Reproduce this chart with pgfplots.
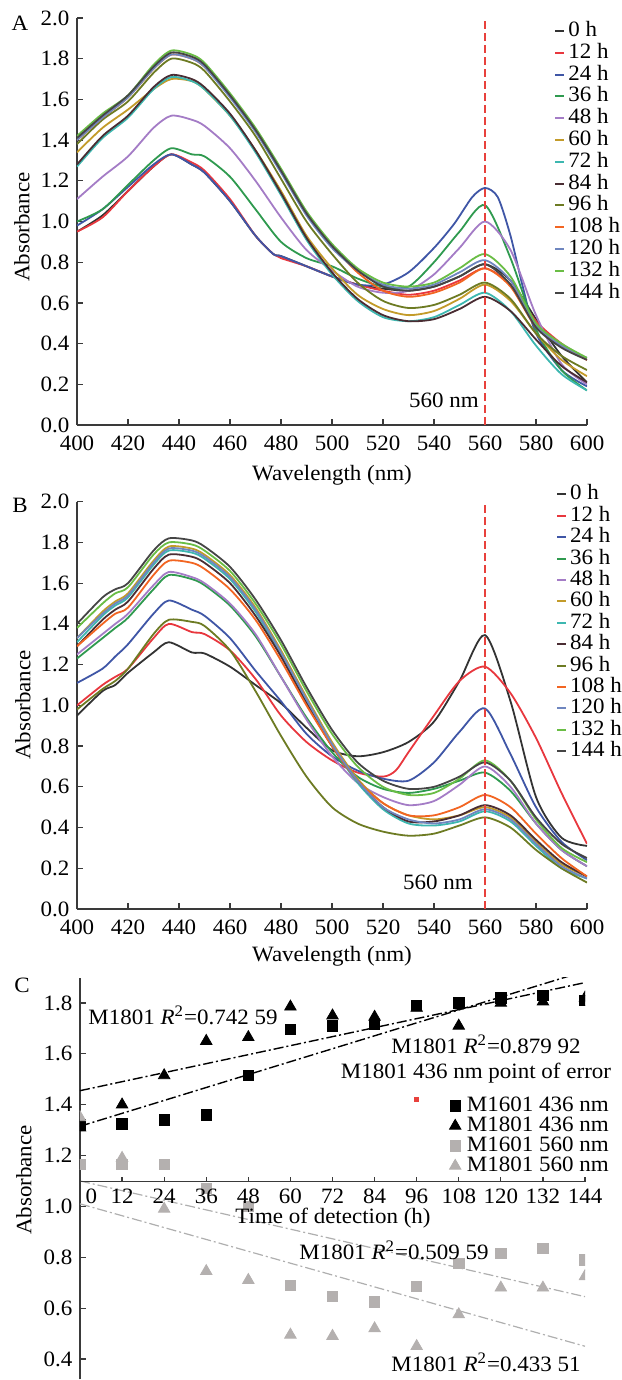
\documentclass[border=0pt,11pt]{standalone}
\usepackage{fontspec}
\setmainfont{Liberation Serif}[FakeStretch=1.05]
\usepackage{pgfplots}
\pgfplotsset{compat=1.18}

\definecolor{axisgray}{HTML}{3A3A3A}
\definecolor{cA}{HTML}{333333}% 0 h
\definecolor{cB}{HTML}{E8373E}% 12 h
\definecolor{cC}{HTML}{3F56A6}% 24 h
\definecolor{cD}{HTML}{2F9A4F}% 36 h
\definecolor{cE}{HTML}{A47CC6}% 48 h
\definecolor{cF}{HTML}{C39B2A}% 60 h
\definecolor{cG}{HTML}{3DB7B0}% 72 h
\definecolor{cH}{HTML}{4A2D33}% 84 h
\definecolor{cI}{HTML}{6D7B23}% 96 h
\definecolor{cJ}{HTML}{F26522}% 108 h
\definecolor{cK}{HTML}{6F86BF}% 120 h
\definecolor{cL}{HTML}{6ABD45}% 132 h
\definecolor{cM}{HTML}{454545}% 144 h
\definecolor{markred}{HTML}{E8413C}
\definecolor{gray560}{HTML}{B4B0AF}
\definecolor{trendgray}{HTML}{AFAFAF}

\pgfplotsset{
  base/.style={scale only axis,
    /pgf/number format/assume math mode=true,
    tick align=inside, major tick length=3pt,
    axis line style={line width=0.6pt, color=axisgray},
    every tick/.style={line width=0.6pt, color=axisgray},
    tick label style={font=\normalsize, color=black}},
  spec/.style={base, width=255pt, axis lines*=left,
    xmin=400, xmax=600, ymin=0, ymax=2,
    xtick={400,420,440,460,480,500,520,540,560,580,600},
    ytick={0,0.2,0.4,0.6,0.8,1.0,1.2,1.4,1.6,1.8,2.0},
    yticklabel style={/pgf/number format/.cd, fixed, fixed zerofill, precision=1},
    xticklabel style={yshift=-1.5pt},
    every axis plot/.append style={line width=0.9pt, smooth, tension=0.45, no markers},
    legend cell align=left,
    legend style={draw=none, fill=none, anchor=north west, font=\normalsize,
      nodes={inner xsep=1.5pt, inner ysep=0pt, text height=7.5pt, text depth=2pt}},
    legend image code/.code={\draw[#1, line width=1pt] (0pt,0pt) -- (4.5pt,0pt);}},
}

\begin{document}
\begin{tikzpicture}
\useasboundingbox (0,0) rectangle (310.5pt,-690pt);

% ---------------- panel A ----------------
\begin{axis}[spec, at={(38.5pt,-212.5pt)}, anchor=south west, height=203.5pt,
  legend style={at={(0.9235,1.002)}, row sep=1.4pt}]
\addplot[cA] coordinates {(400,0.95)(410,1.03)(420,1.15)(430,1.27)(437,1.33)(445,1.28)(450,1.24)(460,1.10)(470,0.93)(477,0.84)(480,0.83)(490,0.78)(500,0.73)(510,0.69)(520,0.67)(530,0.66)(540,0.68)(550,0.73)(560,0.79)(570,0.71)(580,0.52)(590,0.34)(600,0.21)};
\addplot[cB] coordinates {(400,0.95)(410,1.02)(420,1.15)(430,1.27)(437,1.33)(445,1.29)(450,1.25)(460,1.11)(470,0.93)(477,0.84)(480,0.82)(490,0.78)(500,0.73)(510,0.69)(520,0.66)(530,0.64)(540,0.66)(550,0.71)(560,0.77)(570,0.69)(580,0.51)(590,0.40)(600,0.32)};
\addplot[cC] coordinates {(400,0.98)(410,1.06)(420,1.17)(430,1.28)(437,1.33)(445,1.28)(450,1.24)(460,1.10)(470,0.93)(477,0.84)(480,0.83)(490,0.78)(500,0.73)(510,0.69)(520,0.69)(530,0.75)(540,0.87)(548,0.99)(555,1.12)(560,1.165)(565,1.12)(570,0.93)(575,0.67)(580,0.45)(590,0.27)(600,0.19)};
\addplot[cD] coordinates {(400,1.00)(410,1.06)(420,1.18)(430,1.30)(437,1.36)(445,1.33)(450,1.32)(460,1.22)(470,1.06)(480,0.90)(490,0.82)(500,0.78)(510,0.72)(520,0.68)(530,0.68)(540,0.80)(550,0.95)(560,1.08)(570,0.82)(580,0.47)(590,0.27)(600,0.17)};
\addplot[cE] coordinates {(400,1.11)(410,1.22)(420,1.32)(430,1.46)(437,1.52)(445,1.50)(450,1.47)(460,1.36)(470,1.20)(480,1.02)(490,0.86)(500,0.76)(510,0.68)(520,0.65)(530,0.66)(540,0.74)(550,0.87)(560,1.00)(570,0.86)(580,0.54)(590,0.30)(600,0.20)};
\addplot[cF] coordinates {(400,1.34)(410,1.46)(420,1.55)(430,1.65)(437,1.70)(445,1.69)(450,1.65)(460,1.52)(470,1.35)(480,1.15)(490,0.93)(500,0.77)(510,0.64)(520,0.57)(530,0.54)(540,0.56)(550,0.62)(560,0.69)(570,0.61)(580,0.45)(590,0.32)(600,0.24)};
\addplot[cG] coordinates {(400,1.27)(410,1.41)(420,1.51)(430,1.65)(437,1.71)(445,1.69)(450,1.65)(460,1.52)(470,1.34)(480,1.13)(490,0.91)(500,0.74)(510,0.61)(520,0.53)(530,0.51)(540,0.53)(550,0.59)(560,0.65)(570,0.56)(580,0.39)(590,0.25)(600,0.17)};
\addplot[cH] coordinates {(400,1.28)(410,1.42)(420,1.52)(430,1.66)(437,1.72)(445,1.70)(450,1.66)(460,1.53)(470,1.35)(480,1.14)(490,0.92)(500,0.75)(510,0.62)(520,0.54)(530,0.51)(540,0.52)(550,0.57)(560,0.63)(570,0.56)(580,0.42)(590,0.29)(600,0.21)};
\addplot[cI] coordinates {(400,1.38)(410,1.50)(420,1.59)(430,1.73)(437,1.80)(445,1.78)(450,1.74)(460,1.59)(470,1.42)(480,1.21)(490,1.00)(500,0.84)(510,0.70)(520,0.61)(530,0.575)(540,0.59)(550,0.64)(560,0.70)(570,0.62)(580,0.45)(590,0.34)(600,0.27)};
\addplot[cJ] coordinates {(400,1.40)(410,1.51)(420,1.61)(430,1.75)(437,1.82)(445,1.80)(450,1.76)(460,1.62)(470,1.45)(480,1.25)(490,1.04)(500,0.88)(510,0.75)(520,0.66)(530,0.63)(540,0.65)(550,0.70)(560,0.77)(570,0.68)(580,0.48)(590,0.39)(600,0.32)};
\addplot[cK] coordinates {(400,1.40)(410,1.51)(420,1.61)(430,1.75)(437,1.82)(445,1.80)(450,1.76)(460,1.61)(470,1.44)(480,1.24)(490,1.03)(500,0.87)(510,0.76)(520,0.69)(530,0.67)(540,0.69)(550,0.75)(560,0.81)(570,0.71)(580,0.49)(590,0.39)(600,0.33)};
\addplot[cL] coordinates {(400,1.42)(410,1.53)(420,1.62)(430,1.77)(437,1.84)(445,1.82)(450,1.78)(460,1.63)(470,1.46)(480,1.26)(490,1.05)(500,0.89)(510,0.77)(520,0.70)(530,0.68)(540,0.70)(550,0.77)(560,0.84)(570,0.73)(580,0.50)(590,0.40)(600,0.33)};
\addplot[cM] coordinates {(400,1.41)(410,1.52)(420,1.62)(430,1.76)(437,1.83)(445,1.81)(450,1.77)(460,1.62)(470,1.45)(480,1.25)(490,1.04)(500,0.88)(510,0.76)(520,0.68)(530,0.66)(540,0.68)(550,0.73)(560,0.79)(570,0.69)(580,0.48)(590,0.38)(600,0.32)};
\addplot[markred, forget plot, line width=1.1pt, dash pattern=on 4pt off 2pt, sharp plot] coordinates {(560,0)(560,2)};
\legend{0 h,12 h,24 h,36 h,48 h,60 h,72 h,84 h,96 h,108 h,120 h,132 h,144 h}
\end{axis}

% ---------------- panel B ----------------
\begin{axis}[spec, at={(38.5pt,-454.5pt)}, anchor=south west, height=203.65pt,
  legend style={at={(0.927,1.052)}, row sep=1.2pt}]
\addplot[cA] coordinates {(400,0.95)(410,1.07)(415,1.10)(420,1.16)(430,1.26)(436,1.31)(445,1.26)(450,1.255)(460,1.19)(470,1.10)(480,1.01)(490,0.89)(500,0.78)(510,0.75)(520,0.77)(530,0.82)(540,0.92)(550,1.12)(560,1.345)(570,1.02)(580,0.55)(590,0.35)(600,0.31)};
\addplot[cB] coordinates {(400,1.00)(410,1.10)(415,1.14)(420,1.18)(430,1.33)(436,1.40)(445,1.36)(450,1.35)(460,1.27)(470,1.13)(480,0.95)(490,0.82)(500,0.73)(510,0.67)(520,0.65)(525,0.68)(530,0.77)(540,0.95)(550,1.12)(560,1.19)(570,1.06)(580,0.84)(590,0.57)(600,0.32)};
\addplot[cC] coordinates {(400,1.11)(410,1.18)(415,1.24)(420,1.30)(430,1.45)(436,1.515)(445,1.47)(450,1.44)(460,1.33)(470,1.17)(480,1.02)(490,0.86)(500,0.75)(510,0.68)(520,0.64)(530,0.63)(540,0.72)(550,0.87)(560,0.985)(570,0.76)(580,0.50)(590,0.33)(600,0.24)};
\addplot[cD] coordinates {(400,1.23)(410,1.33)(415,1.38)(420,1.43)(430,1.57)(436,1.64)(445,1.62)(450,1.59)(460,1.49)(470,1.34)(480,1.14)(490,0.94)(500,0.77)(510,0.65)(520,0.59)(530,0.57)(540,0.59)(550,0.63)(560,0.67)(570,0.58)(580,0.42)(590,0.29)(600,0.21)};
\addplot[cE] coordinates {(400,1.25)(410,1.35)(415,1.40)(420,1.45)(430,1.59)(436,1.655)(445,1.63)(450,1.60)(460,1.50)(470,1.35)(480,1.14)(490,0.93)(500,0.75)(510,0.62)(520,0.55)(530,0.51)(540,0.53)(550,0.61)(560,0.70)(570,0.60)(580,0.42)(590,0.29)(600,0.21)};
\addplot[cF] coordinates {(400,1.33)(410,1.46)(415,1.51)(420,1.55)(430,1.71)(436,1.78)(445,1.77)(450,1.74)(460,1.64)(470,1.48)(480,1.27)(490,1.04)(500,0.82)(510,0.64)(520,0.52)(530,0.46)(540,0.44)(550,0.46)(560,0.50)(570,0.45)(580,0.33)(590,0.22)(600,0.16)};
\addplot[cG] coordinates {(400,1.31)(410,1.44)(415,1.49)(420,1.53)(430,1.69)(436,1.76)(445,1.75)(450,1.72)(460,1.62)(470,1.46)(480,1.25)(490,1.02)(500,0.80)(510,0.62)(520,0.49)(530,0.42)(540,0.41)(550,0.43)(560,0.48)(570,0.43)(580,0.31)(590,0.20)(600,0.15)};
\addplot[cH] coordinates {(400,1.29)(410,1.42)(415,1.47)(420,1.51)(430,1.67)(436,1.74)(445,1.73)(450,1.70)(460,1.60)(470,1.44)(480,1.24)(490,1.01)(500,0.80)(510,0.63)(520,0.50)(530,0.43)(540,0.43)(550,0.46)(560,0.51)(570,0.46)(580,0.34)(590,0.23)(600,0.16)};
\addplot[cI] coordinates {(400,0.98)(410,1.08)(415,1.12)(420,1.18)(430,1.35)(436,1.42)(445,1.41)(450,1.39)(460,1.27)(470,1.07)(480,0.85)(490,0.65)(500,0.50)(510,0.42)(520,0.38)(530,0.36)(540,0.37)(550,0.41)(560,0.45)(570,0.40)(580,0.29)(590,0.20)(600,0.13)};
\addplot[cJ] coordinates {(400,1.29)(410,1.40)(415,1.45)(420,1.48)(430,1.64)(436,1.71)(445,1.70)(450,1.67)(460,1.57)(470,1.42)(480,1.22)(490,1.00)(500,0.80)(510,0.63)(520,0.52)(530,0.46)(540,0.46)(550,0.50)(560,0.56)(570,0.50)(580,0.37)(590,0.25)(600,0.16)};
\addplot[cK] coordinates {(400,1.33)(410,1.45)(415,1.50)(420,1.54)(430,1.70)(436,1.77)(445,1.76)(450,1.73)(460,1.63)(470,1.47)(480,1.26)(490,1.03)(500,0.81)(510,0.63)(520,0.50)(530,0.44)(540,0.42)(550,0.44)(560,0.49)(570,0.44)(580,0.32)(590,0.21)(600,0.15)};
\addplot[cL] coordinates {(400,1.38)(410,1.50)(415,1.55)(420,1.58)(430,1.74)(436,1.80)(445,1.79)(450,1.76)(460,1.66)(470,1.50)(480,1.30)(490,1.07)(500,0.86)(510,0.70)(520,0.60)(530,0.56)(540,0.57)(550,0.64)(560,0.73)(570,0.63)(580,0.44)(590,0.30)(600,0.23)};
\addplot[cM] coordinates {(400,1.40)(410,1.53)(415,1.57)(420,1.60)(430,1.76)(436,1.82)(445,1.81)(450,1.78)(460,1.68)(470,1.52)(480,1.32)(490,1.09)(500,0.88)(510,0.72)(520,0.63)(530,0.59)(540,0.60)(550,0.65)(560,0.72)(570,0.63)(580,0.45)(590,0.32)(600,0.25)};
\addplot[markred, forget plot, line width=1.1pt, dash pattern=on 4pt off 2pt, sharp plot] coordinates {(560,0)(560,2)};
\legend{0 h,12 h,24 h,36 h,48 h,60 h,72 h,84 h,96 h,108 h,120 h,132 h,144 h}
\end{axis}

% ---------------- panel C ----------------
\begin{axis}[base, at={(40pt,-689.65pt)}, anchor=south west, width=252.5pt, height=200.9pt,
  axis y line*=left, axis x line=none, xtick=\empty,
  xmin=0, xmax=144, ymin=0.32, ymax=1.9,
  ytick={0.4,0.6,0.8,1.0,1.2,1.4,1.6,1.8},
  yticklabel style={/pgf/number format/.cd, fixed, fixed zerofill, precision=1},
  clip marker paths=true,
  legend cell align=left,
  legend style={draw=none, fill=none, at={(0.719,0.715)}, anchor=north west,
    font=\normalsize, row sep=0.5pt,
    nodes={inner xsep=3pt, inner ysep=0pt, text height=7.5pt, text depth=2pt}},
  legend image code/.code={\draw[#1] plot coordinates {(0pt,0pt)};}]
\addplot[black, line width=0.7pt, dash pattern=on 5pt off 1.5pt on 1pt off 1.5pt, forget plot] coordinates {(0,1.455)(144,1.88)};
\addplot[black, line width=0.7pt, dash pattern=on 5pt off 1.5pt on 1pt off 1.5pt, forget plot] coordinates {(0,1.315)(144,1.925)};
\addplot[trendgray, line width=0.6pt, dash pattern=on 5pt off 1.5pt on 1pt off 1.5pt, forget plot] coordinates {(0,1.10)(144,0.645)};
\addplot[trendgray, line width=0.6pt, dash pattern=on 5pt off 1.5pt on 1pt off 1.5pt, forget plot] coordinates {(0,1.01)(144,0.45)};
\addplot[only marks, mark=square*, color=black, mark size=2.6pt] coordinates {(0,1.32)(12,1.325)(24,1.34)(36,1.36)(48,1.515)(60,1.695)(72,1.71)(84,1.715)(96,1.79)(108,1.80)(120,1.82)(132,1.83)(144,1.81)};
\addplot[only marks, mark=triangle*, color=black, mark size=3.3pt] coordinates {(0,1.31)(12,1.40)(24,1.515)(36,1.65)(48,1.665)(60,1.785)(72,1.75)(84,1.745)(96,1.78)(108,1.71)(120,1.80)(132,1.805)(144,1.82)};
\addplot[only marks, mark=square*, color=gray560, mark size=2.6pt] coordinates {(0,1.165)(12,1.165)(24,1.165)(36,1.07)(48,1.00)(60,0.69)(72,0.645)(84,0.625)(96,0.685)(108,0.775)(120,0.815)(132,0.835)(144,0.79)};
\addplot[only marks, mark=triangle*, color=gray560, mark size=3.3pt] coordinates {(0,1.35)(12,1.19)(24,0.99)(36,0.745)(48,0.71)(60,0.495)(72,0.49)(84,0.52)(96,0.45)(108,0.575)(120,0.68)(132,0.68)(144,0.725)};
\addplot[only marks, mark=square*, color=markred, mark size=0.9pt, forget plot] coordinates {(96,1.42)};
\legend{M1601 436 nm,M1801 436 nm,M1601 560 nm,M1801 560 nm}
\end{axis}
% time axis of panel C, drawn at absorbance 1.1
\begin{axis}[base, at={(40pt,-590.8pt)}, anchor=south west, width=252.5pt, height=20pt,
  xmin=0, xmax=144, ymin=0, ymax=1,
  axis x line*=bottom, axis y line=none, ytick=\empty,
  xtick={0,12,24,36,48,60,72,84,96,108,120,132,144},
  xticklabels={\hphantom{00}0,12,24,36,48,60,72,84,96,108,120,132,144},
  major tick length=2.5pt]
\addplot[draw=none, forget plot] coordinates {(0,0)(144,0)};
\end{axis}

% ---------------- texts ----------------
\node at (10pt,-11.5pt) {A};
\node at (10pt,-252.5pt) {B};
\node at (11pt,-492.5pt) {C};
\node[rotate=90] at (11pt,-113.5pt) {Absorbance};
\node[rotate=90] at (11.5pt,-352.5pt) {Absorbance};
\node[rotate=90] at (12pt,-590pt) {Absorbance};
\node at (166pt,-237.5pt) {Wavelength (nm)};
\node at (166pt,-478.3pt) {Wavelength (nm)};
\node at (166.5pt,-609pt) {Time of detection (h)};
\node at (222pt,-200pt) {560 nm};
\node at (219pt,-441pt) {560 nm};
\node at (91.5pt,-507.5pt) {M1801 \textit{R}\textsuperscript{2}=0.742 59};
\node at (243pt,-522pt) {M1801 \textit{R}\textsuperscript{2}=0.879 92};
\node at (238pt,-536.5pt) {M1801 436 nm point of error};
\node at (197pt,-625pt) {M1801 \textit{R}\textsuperscript{2}=0.509 59};
\node at (243pt,-681pt) {M1801 \textit{R}\textsuperscript{2}=0.433 51};
\end{tikzpicture}
\end{document}
